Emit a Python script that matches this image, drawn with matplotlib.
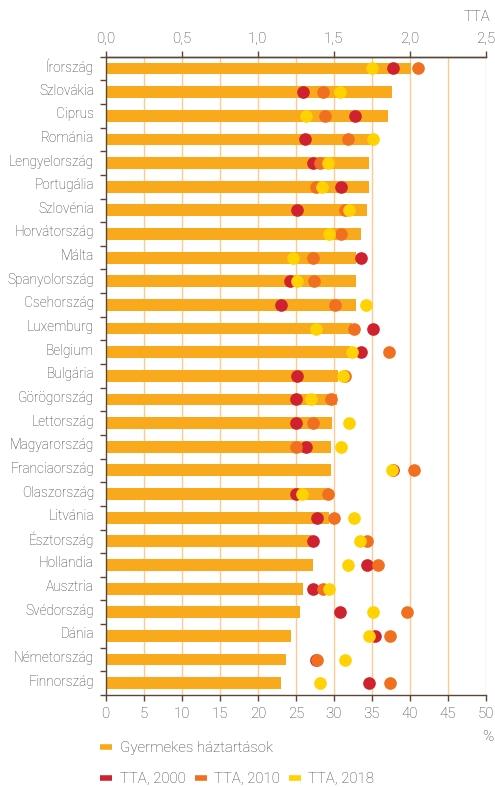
import numpy as np
import matplotlib
matplotlib.use("Agg")
import matplotlib.pyplot as plt
from matplotlib.lines import Line2D
import matplotlib.transforms as mtransforms

plt.rcParams['font.family'] = ['Roboto', 'DejaVu Sans']
plt.rcParams['font.weight'] = 'light'

countries = ['Írország', 'Szlovákia', 'Ciprus', 'Románia', 'Lengyelország', 'Portugália',
             'Szlovénia', 'Horvátország', 'Málta', 'Spanyolország', 'Csehország', 'Luxemburg',
             'Belgium', 'Bulgária', 'Görögország', 'Lettország', 'Magyarország', 'Franciaország',
             'Olaszország', 'Litvánia', 'Észtország', 'Hollandia', 'Ausztria', 'Svédország',
             'Dánia', 'Németország', 'Finnország']
households = [40.2, 37.7, 37.1, 35.2, 34.6, 34.6, 34.3, 33.6, 32.9, 32.9, 32.9, 32.4, 32.1, 30.5,
              30.4, 29.8, 29.6, 29.6, 29.5, 29.3, 27.1, 27.2, 25.9, 25.6, 24.4, 23.7, 23.0]
tta2000 = [1.89, 1.30, 1.64, 1.31, 1.36, 1.55, 1.26, np.nan, 1.68, 1.21, 1.15, 1.76, 1.68, 1.26,
           1.25, 1.25, 1.32, 1.89, 1.25, 1.39, 1.36, 1.72, 1.36, 1.54, 1.77, 1.38, 1.73]
tta2010 = [2.05, 1.43, 1.44, 1.59, 1.41, 1.38, 1.57, 1.55, 1.36, 1.37, 1.51, 1.63, 1.86, 1.57,
           1.48, 1.36, 1.25, 2.03, 1.46, 1.50, 1.72, 1.79, 1.43, 1.98, 1.87, 1.39, 1.87]
tta2018 = [1.75, 1.54, 1.32, 1.76, 1.46, 1.42, 1.60, 1.47, 1.23, 1.26, 1.71, 1.38, 1.62, 1.56,
           1.35, 1.60, 1.55, 1.88, 1.29, 1.63, 1.67, 1.59, 1.47, 1.76, 1.73, 1.57, 1.41]
bottom_ticks = [0, 5, 10, 15, 20, 25, 30, 35, 40, 45, 50]
top_ticks = [0.0, 0.5, 1.0, 1.5, 2.0, 2.5]
top_labels = ['0,0', '0,5', '1,0', '1,5', '2,0', '2,5']

BAR = '#F8A91C'
RED = '#D0222E'
ORANGE = '#F07020'
YELLOW = '#FFD200'
GRID = '#FCCB94'
SPINE = '#5A4636'
TXT = '#3C3C3C'
FS = 9.8
FSN = 10.8

fig = plt.figure(figsize=(4.95, 7.87), dpi=100)
ax = fig.add_axes([0.2135, 0.1169, 0.9818 - 0.2135, 0.928 - 0.1169])

y = np.arange(len(countries))
for g in bottom_ticks[1:]:
    ax.axvline(g, color=GRID, lw=1.0, zorder=0)
ax.barh(y, households, height=0.5, color=BAR, zorder=2)
ax.set_xlim(0, 50)
ax.set_ylim(len(countries) - 0.5, -0.5)
ax.set_xticks(bottom_ticks)
ax.set_xticklabels([str(t) for t in bottom_ticks])
ax.set_yticks(y)
ax.set_yticklabels(countries)
ax.set_yticks(np.arange(len(countries) + 1) - 0.5, minor=True)
ax.tick_params(axis='y', which='major', length=0, pad=8.5, labelsize=FS, labelcolor=TXT)
ax.tick_params(axis='y', which='minor', length=4, width=1, color=SPINE, direction='out')
ax.tick_params(axis='x', which='major', length=4, width=1, color=SPINE, pad=5,
               labelsize=FSN, labelcolor=TXT)
offset = mtransforms.ScaledTranslation(0, 3 / 100, fig.dpi_scale_trans)
for lab in ax.get_yticklabels():
    lab.set_transform(lab.get_transform() + offset)

ax.spines['right'].set_visible(False)
for s in ['left', 'bottom', 'top']:
    ax.spines[s].set_color(SPINE)
    ax.spines[s].set_linewidth(1.0)

ax2 = ax.twiny()
ax2.set_xlim(0, 2.5)
ax2.set_xticks(top_ticks)
ax2.set_xticklabels(top_labels)
ax2.tick_params(axis='x', length=4, width=1, color=SPINE, pad=4, labelsize=FSN, labelcolor=TXT)
for s in ['right', 'left', 'bottom']:
    ax2.spines[s].set_visible(False)
ax2.spines['top'].set_color(SPINE)
ax2.spines['top'].set_linewidth(1.0)

ms = 83
ax2.scatter(tta2000, y, s=ms, color=RED, linewidths=0, zorder=3)
ax2.scatter(tta2010, y, s=ms, color=ORANGE, linewidths=0, zorder=4)
ax2.scatter(tta2018, y, s=ms, color=YELLOW, linewidths=0, zorder=5)
ax2.set_ylim(len(countries) - 0.5, -0.5)

fig.text(490 / 495, 1 - 17 / 787, 'TTA', ha='right', va='center', fontsize=FSN, color=TXT)
fig.text(488 / 495, 1 - 737 / 787, '%', ha='center', va='center', fontsize=FSN, color=TXT)

def entry(x_px, y_px, color, label):
    h = Line2D([], [], color=color, lw=4, solid_capstyle='butt')
    leg = fig.legend([h], [label], loc='center left',
                     bbox_to_anchor=(x_px / 495, 1 - y_px / 787),
                     frameon=False, borderpad=0, borderaxespad=0, handlelength=0.8,
                     handletextpad=0.5, fontsize=FSN)
    for t in leg.get_texts():
        t.set_color(TXT)
    return leg

entry(100, 748, BAR, 'Gyermekes háztartások')
entry(100, 779, RED, 'TTA, 2000')
entry(195, 779, ORANGE, 'TTA, 2010')
entry(289, 779, YELLOW, 'TTA, 2018')

fig.savefig('out.png', dpi=100)
